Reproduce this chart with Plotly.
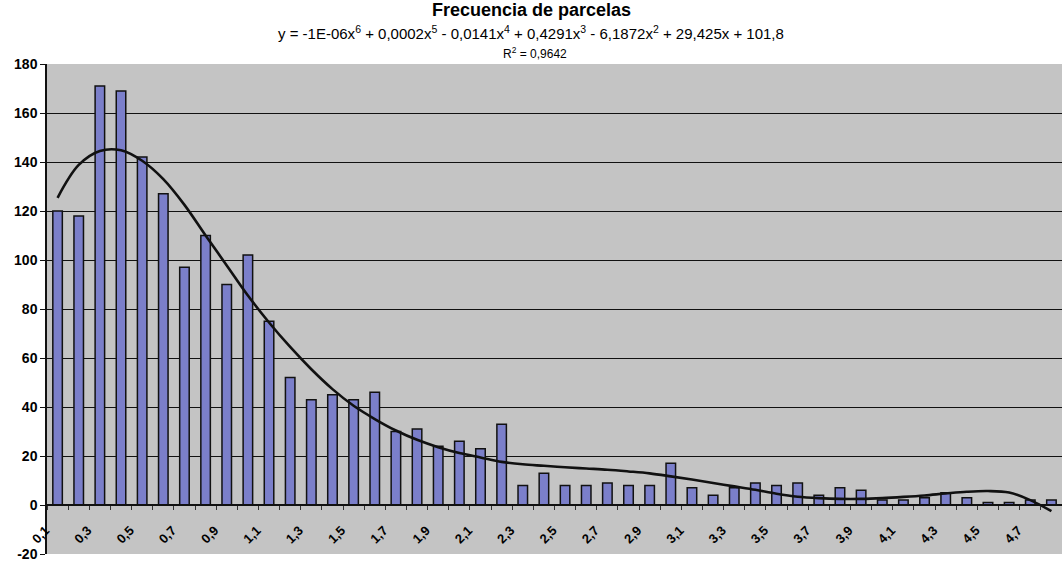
import plotly.graph_objects as go

# Category values (parcel size classes)
sizes = [round(0.1 * i, 1) for i in range(1, 49)]
size_labels = ["0,1", "0,3", "0,5", "0,7", "0,9", "1,1", "1,3", "1,5", "1,7", "1,9",
               "2,1", "2,3", "2,5", "2,7", "2,9", "3,1", "3,3", "3,5", "3,7", "3,9",
               "4,1", "4,3", "4,5", "4,7"]
label_positions = [0.1, 0.3, 0.5, 0.7, 0.9, 1.1, 1.3, 1.5, 1.7, 1.9,
                   2.1, 2.3, 2.5, 2.7, 2.9, 3.1, 3.3, 3.5, 3.7, 3.9,
                   4.1, 4.3, 4.5, 4.7]

# Frequencies
frequency = [120, 118, 171, 169, 142, 127, 97, 110, 90, 102,
             75, 52, 43, 45, 43, 46, 30, 31, 24, 26,
             23, 33, 8, 13, 8, 8, 9, 8, 8, 17,
             7, 4, 7, 9, 8, 9, 4, 7, 6, 2,
             2, 3, 5, 3, 1, 1, 2, 2]

# Polynomial trend line at each category
trend = [125.4, 138.8, 144.5, 144.8, 140.5, 133.0, 122.5, 110.0, 97.8, 85.5,
         74.5, 64.5, 55.4, 47.3, 40.5, 35.1, 30.4, 26.6, 23.6, 21.2,
         19.4, 17.6, 16.6, 16.0, 15.4, 14.9, 14.4, 13.7, 12.9, 11.7,
         10.4, 9.0, 7.6, 6.2, 4.6, 3.4, 2.8, 2.5, 2.5, 2.8,
         3.3, 3.9, 4.7, 5.4, 5.7, 5.1, 2.0, -2.5]

y_ticks = [-20, 0, 20, 40, 60, 80, 100, 120, 140, 160, 180]
y_tick_labels = ["-20", "0", "20", "40", "60", "80", "100", "120", "140", "160", "180"]

title_text = "Frecuencia de parcelas"
equation_text = ("y = -1E-06x<sup>6</sup> + 0,0002x<sup>5</sup> - 0,0141x<sup>4</sup> + "
                 "0,4291x<sup>3</sup> - 6,1872x<sup>2</sup> + 29,425x + 101,8")
r2_text = "R<sup>2</sup> = 0,9642"

FONT = "Arial, Liberation Sans, sans-serif"

fig = go.Figure()
fig.add_trace(go.Bar(
    x=sizes, y=frequency,
    marker=dict(color="#7b7fca", line=dict(color="#111111", width=1.5)),
    showlegend=False,
))
fig.add_trace(go.Scatter(
    x=sizes, y=trend, mode="lines",
    line=dict(color="#111111", width=2.6, shape="spline", smoothing=1.0),
    showlegend=False,
))

fig.update_layout(
    width=1062, height=563,
    margin=dict(l=47, r=0, t=64, b=9),
    paper_bgcolor="white",
    plot_bgcolor="#c4c4c4",
    bargap=0.55,
    font=dict(family=FONT, color="black"),
    showlegend=False,
)

fig.update_xaxes(
    type="linear",
    range=[0.05, 4.85],
    anchor="free", position=0.1,
    automargin=False,
    showgrid=False, zeroline=False,
    showline=True, linecolor="#111111", linewidth=1.5,
    tickmode="array", tickvals=label_positions, ticktext=size_labels,
    ticks="", tickangle=-45,
    ticklabelshift=-12, ticklabelstandoff=12,
    ticklabeloverflow="allow",
    tickfont=dict(family=FONT, size=13, color="black", weight="bold"),
    minor=dict(ticks="outside", tick0=0.05, dtick=0.1, ticklen=4,
               tickcolor="#333333", tickwidth=1, showgrid=False),
)

fig.update_yaxes(
    range=[-20, 180],
    automargin=False,
    tickmode="array", tickvals=y_ticks, ticktext=y_tick_labels,
    showgrid=True, gridcolor="#111111", gridwidth=1,
    zeroline=False,
    showline=True, linecolor="#111111", linewidth=1.5,
    ticks="outside", ticklen=5, tickcolor="#111111",
    ticklabeloverflow="allow",
    tickfont=dict(family=FONT, size=14, color="black", weight="bold"),
)

fig.add_annotation(text="<b>" + title_text + "</b>", xref="paper", yref="paper",
                   x=0.477, y=1, yshift=54, yanchor="middle", showarrow=False,
                   font=dict(family=FONT, size=18, color="black"))
fig.add_annotation(text=equation_text, xref="paper", yref="paper",
                   x=0.477, y=1, yshift=32, yanchor="middle", showarrow=False,
                   font=dict(family=FONT, size=15, color="black"))
fig.add_annotation(text=r2_text, xref="paper", yref="paper",
                   x=0.481, y=1, yshift=11, yanchor="middle", showarrow=False,
                   font=dict(family=FONT, size=12, color="black"))

fig.write_html("out.html", config={"displayModeBar": False},
               post_script="document.body.style.margin='0';")
